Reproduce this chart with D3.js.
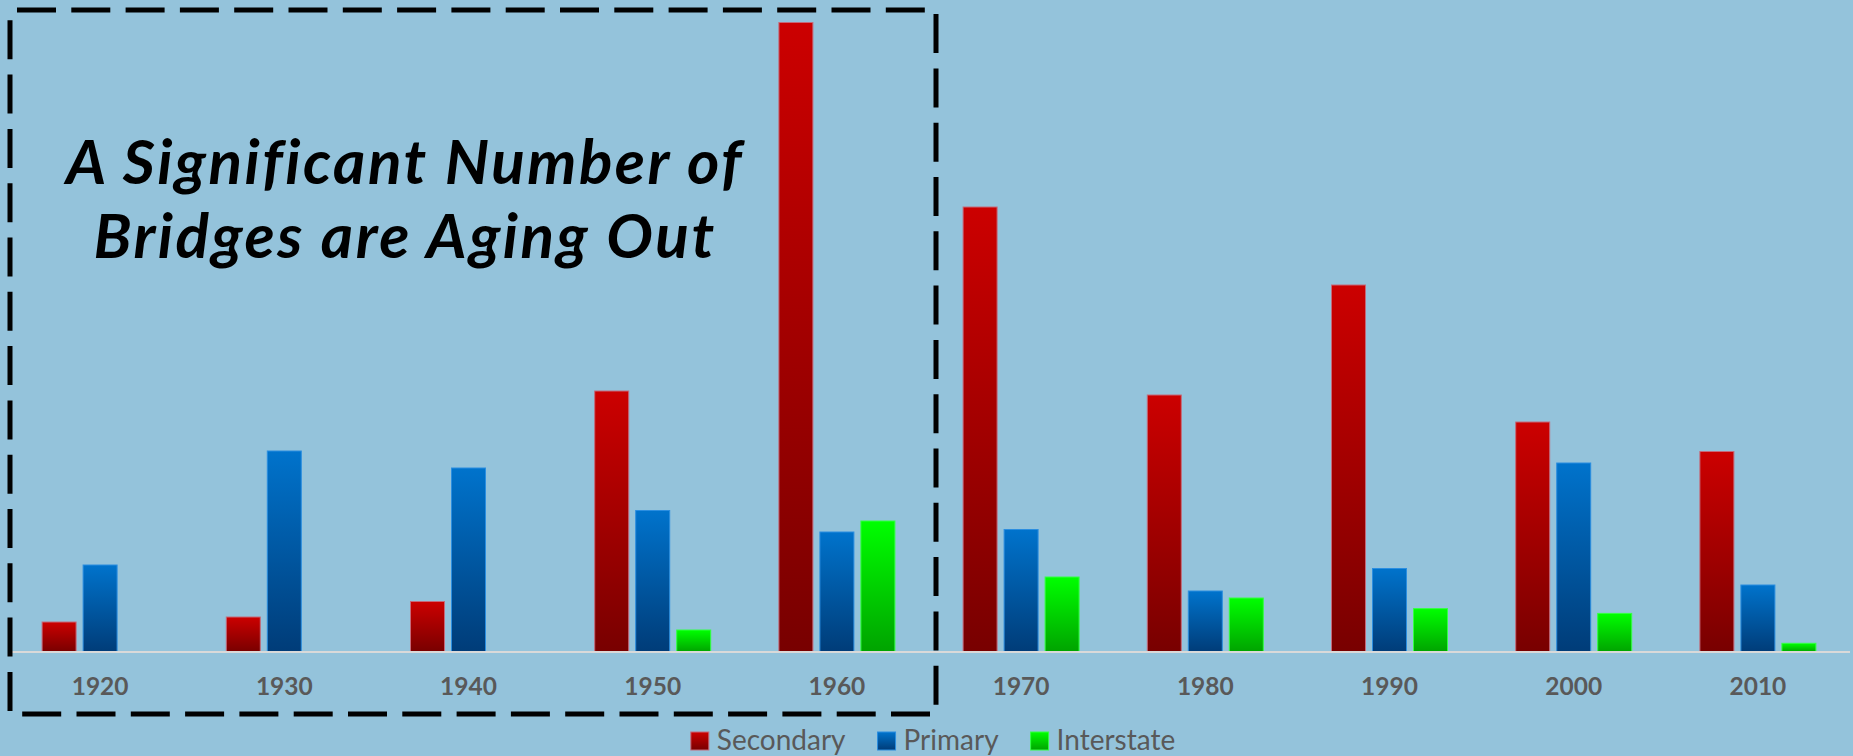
<!DOCTYPE html>
<html>
<head>
<meta charset="utf-8">
<script src="https://cdn.jsdelivr.net/npm/d3@7"></script>
<style>
  html, body { margin: 0; padding: 0; background: #94c3db; }
  svg { display: block; }
</style>
</head>
<body>
<div id="chart"></div>
<script>
// decades of construction
var years = ["1920", "1930", "1940", "1950", "1960", "1970", "1980", "1990", "2000", "2010"];
var seriesNames = ["Secondary", "Primary", "Interstate"];

// bridge counts
var secondary  = [300, 350, 505, 2610, 6295, 4450, 2570, 3670, 2300, 2005];
var primary    = [870, 2010, 1840, 1415, 1200, 1225, 610, 835, 1890, 670];
var interstate = [0, 0, 0, 220, 1310, 750, 540, 434, 386, 87];

var titleLines = ["A Significant Number of", "Bridges are Aging Out"];

var width = 1853, height = 756;
var baseY = 652;

var svg = d3.select("#chart").append("svg")
    .attr("width", width)
    .attr("height", height);

svg.append("rect")
    .attr("width", width)
    .attr("height", height)
    .attr("fill", "#94c3db");

// gradients for each series
var grads = [
  {id: "gSec", top: "#cc0000", bottom: "#780000", edge: "#c46a7a"},
  {id: "gPri", top: "#0073cc", bottom: "#003c78", edge: "#2b8ee0"},
  {id: "gInt", top: "#00ff00", bottom: "#00a300", edge: "#33ff44"}
];
var defs = svg.append("defs");
grads.forEach(function(g) {
  var lg = defs.append("linearGradient")
      .attr("id", g.id)
      .attr("x1", 0).attr("y1", 0).attr("x2", 0).attr("y2", 1);
  lg.append("stop").attr("offset", "0%").attr("stop-color", g.top);
  lg.append("stop").attr("offset", "100%").attr("stop-color", g.bottom);
});

var x = d3.scaleBand().domain(years).range([8, 1850]);
var xs = d3.scaleBand().domain(seriesNames)
    .range([x.bandwidth() / 2 - 58, x.bandwidth() / 2 + 58])
    .paddingInner(0.171);
var y = d3.scaleLinear().domain([0, 6500]).range([baseY, 2]);

var data = years.map(function(yr, i) {
  return {year: yr, values: [secondary[i], primary[i], interstate[i]]};
});

var groups = svg.selectAll(".year")
  .data(data)
  .enter()
  .append("g")
    .attr("class", "year")
    .attr("transform", function(d) { return "translate(" + x(d.year) + ",0)"; });

groups.selectAll("rect")
  .data(function(d) {
    return d.values.map(function(v, j) { return {name: seriesNames[j], value: v, j: j}; });
  })
  .enter()
  .filter(function(d) { return d.value > 0; })
  .append("rect")
    .attr("x", function(d) { return xs(d.name); })
    .attr("y", function(d) { return y(d.value); })
    .attr("width", xs.bandwidth())
    .attr("height", function(d) { return baseY - y(d.value); })
    .attr("fill", function(d) { return "url(#" + grads[d.j].id + ")"; })
    .attr("stroke", function(d) { return grads[d.j].edge; })
    .attr("stroke-width", 1);

// baseline
svg.append("line")
    .attr("x1", 12).attr("x2", 1850)
    .attr("y1", baseY).attr("y2", baseY)
    .attr("stroke", "#d9d9d9")
    .attr("stroke-width", 2);

// year labels
var xAxis = d3.axisBottom(x).tickSize(0).tickPadding(0);
var ax = svg.append("g")
    .attr("transform", "translate(0," + baseY + ")")
    .call(xAxis);
ax.select(".domain").remove();
ax.selectAll("text")
    .attr("y", 43)
    .attr("dy", 0)
    .style("font-family", "Lato, 'Open Sans', sans-serif")
    .style("font-size", "24.5px")
    .style("font-weight", "bold")
    .style("fill", "#595959");

// dashed box round the first five decades
svg.append("rect")
    .attr("x", 10).attr("y", 10)
    .attr("width", 926).attr("height", 704)
    .attr("fill", "none")
    .attr("stroke", "#000")
    .attr("stroke-width", 5)
    .attr("stroke-dasharray", "39 15.3")
    .attr("stroke-dashoffset", -7);

// title
svg.append("text")
    .attr("x", 405)
    .attr("text-anchor", "middle")
    .style("font-family", "Lato, 'Open Sans', sans-serif")
    .style("font-size", "62px")
    .style("font-weight", "bold")
    .style("font-style", "italic")
    .style("letter-spacing", "2.5px")
    .style("fill", "#000")
  .selectAll("tspan")
  .data(titleLines)
  .enter()
  .append("tspan")
    .attr("x", 405)
    .attr("y", function(d, i) { return 184 + i * 74; })
    .text(function(d) { return d; });

// legend
var legend = svg.append("g").attr("class", "legend");
var lx = 0;
var items = legend.selectAll(".item")
  .data(seriesNames)
  .enter()
  .append("g")
    .attr("class", "item");
items.append("rect")
    .attr("y", 732)
    .attr("width", 18)
    .attr("height", 18)
    .attr("fill", function(d, i) { return "url(#" + grads[i].id + ")"; })
    .attr("stroke", function(d, i) { return grads[i].edge; })
    .attr("stroke-width", 1);
items.append("text")
    .attr("x", 26)
    .attr("y", 750)
    .style("font-family", "Lato, 'Open Sans', sans-serif")
    .style("font-size", "28px")
    .style("fill", "#595959")
    .text(function(d) { return d; });
items.each(function() {
  var g = d3.select(this);
  g.attr("transform", "translate(" + lx + ",0)");
  lx += 26 + g.select("text").node().getComputedTextLength() + 32;
});
var total = lx - 32;
legend.attr("transform", "translate(" + (933 - total / 2) + ",0)");
</script>
</body>
</html>
